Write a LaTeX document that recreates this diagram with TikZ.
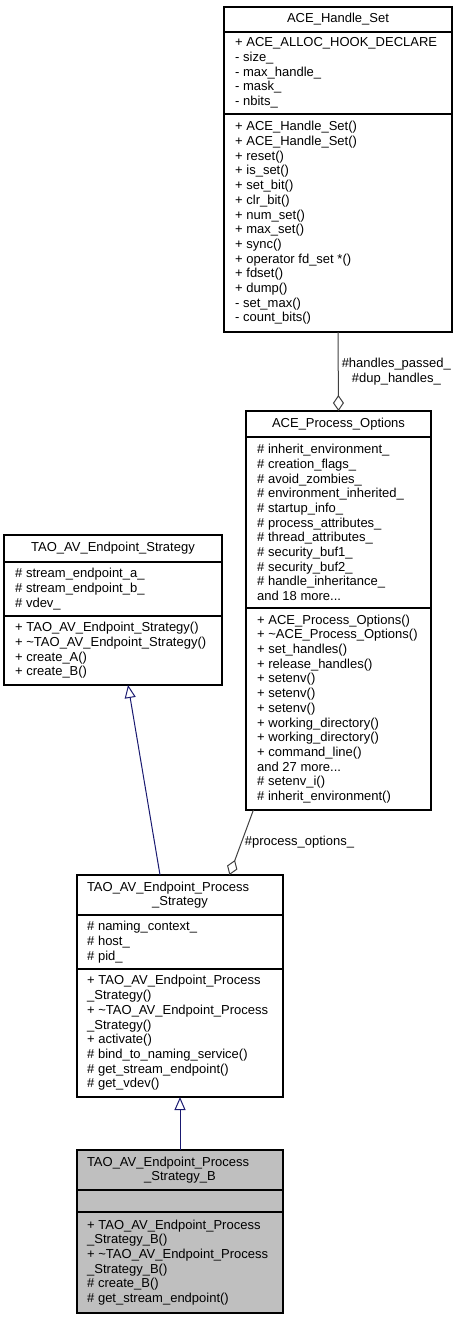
\documentclass[tikz,border=0pt]{standalone}
\usepackage{fontspec}
\setmainfont{Liberation Sans}
\usetikzlibrary{arrows.meta,positioning,calc}
\definecolor{edgeblue}{HTML}{191970}
\definecolor{edgegray}{HTML}{404040}
\definecolor{leafgray}{HTML}{BFBFBF}

\begin{document}
\begin{tikzpicture}[
  x=1pt, y=-1pt,
  part/.style={draw, line width=1.2pt, outer sep=0pt, inner sep=0pt, fill=white},
  head/.style={part, align=center, font=\fontsize{13}{14.7}\selectfont},
  memb/.style={anchor=west, align=left, inner xsep=11pt, inner ysep=0pt, font=\fontsize{13}{14.7}\selectfont},
  lbl/.style={align=center, inner sep=3pt, text=black, font=\fontsize{13}{14.7}\selectfont},
  inherit/.style={edgeblue, line width=1pt, -{Triangle[fill=white, length=13pt, width=11pt]}},
  aggr/.style={edgegray, line width=1pt, -{Diamond[fill=white, length=16pt, width=11pt]}}
]
\useasboundingbox (0,0) rectangle (459,1320);

% ACE_Handle_Set
\node[head, anchor=north west, minimum width=228pt, minimum height=25pt] (hs) at (224,7) {ACE\_Handle\_Set};
\node[part, below=0pt of hs, minimum width=228pt, minimum height=82pt] (hs-a) {};
\node[part, below=0pt of hs-a, minimum width=228pt, minimum height=218pt] (hs-m) {};
\node[memb] (hs-at) at (hs-a.west) {+ ACE\_ALLOC\_HOOK\_DECLARE\\- size\_\\- max\_handle\_\\- mask\_\\- nbits\_};
\node[memb] (hs-mt) at (hs-m.west) {+ ACE\_Handle\_Set()\\+ ACE\_Handle\_Set()\\+ reset()\\+ is\_set()\\+ set\_bit()\\+ clr\_bit()\\+ num\_set()\\+ max\_set()\\+ sync()\\+ operator fd\_set *()\\+ fdset()\\+ dump()\\- set\_max()\\- count\_bits()};

% ACE_Process_Options
\node[head, anchor=north west, minimum width=185pt, minimum height=26pt] (po) at (246,411) {ACE\_Process\_Options};
\node[part, below=0pt of po, minimum width=185pt, minimum height=171pt] (po-a) {};
\node[part, below=0pt of po-a, minimum width=185pt, minimum height=202pt] (po-m) {};
\node[memb] (po-at) at (po-a.west) {\# inherit\_environment\_\\\# creation\_flags\_\\\# avoid\_zombies\_\\\# environment\_inherited\_\\\# startup\_info\_\\\# process\_attributes\_\\\# thread\_attributes\_\\\# security\_buf1\_\\\# security\_buf2\_\\\# handle\_inheritance\_\\and 18 more...};
\node[memb] (po-mt) at (po-m.west) {+ ACE\_Process\_Options()\\+ \textasciitilde ACE\_Process\_Options()\\+ set\_handles()\\+ release\_handles()\\+ setenv()\\+ setenv()\\+ setenv()\\+ working\_directory()\\+ working\_directory()\\+ command\_line()\\and 27 more...\\\# setenv\_i()\\\# inherit\_environment()};

% TAO_AV_Endpoint_Strategy
\node[head, anchor=north west, minimum width=218pt, minimum height=27pt] (es) at (4,535) {TAO\_AV\_Endpoint\_Strategy};
\node[part, below=0pt of es, minimum width=218pt, minimum height=54pt] (es-a) {};
\node[part, below=0pt of es-a, minimum width=218pt, minimum height=69pt] (es-m) {};
\node[memb] (es-at) at (es-a.west) {\# stream\_endpoint\_a\_\\\# stream\_endpoint\_b\_\\\# vdev\_};
\node[memb] (es-mt) at (es-m.west) {+ TAO\_AV\_Endpoint\_Strategy()\\+ \textasciitilde TAO\_AV\_Endpoint\_Strategy()\\+ create\_A()\\+ create\_B()};

% TAO_AV_Endpoint_Process_Strategy
\node[head, anchor=north west, minimum width=206pt, minimum height=40pt, text width=186pt] (ps) at (77,875) {TAO\_AV\_Endpoint\_Process\hfill\null\\\_Strategy};
\node[part, below=0pt of ps, minimum width=206pt, minimum height=54pt] (ps-a) {};
\node[part, below=0pt of ps-a, minimum width=206pt, minimum height=128pt] (ps-m) {};
\node[memb, inner xsep=10pt] (ps-at) at (ps-a.west) {\# naming\_context\_\\\# host\_\\\# pid\_};
\node[memb, inner xsep=10pt] (ps-mt) at (ps-m.west) {+ TAO\_AV\_Endpoint\_Process\\\_Strategy()\\+ \textasciitilde TAO\_AV\_Endpoint\_Process\\\_Strategy()\\+ activate()\\\# bind\_to\_naming\_service()\\\# get\_stream\_endpoint()\\\# get\_vdev()};

% TAO_AV_Endpoint_Process_Strategy_B
\node[head, fill=leafgray, anchor=north west, minimum width=206pt, minimum height=40pt, text width=186pt] (pb) at (77,1150) {TAO\_AV\_Endpoint\_Process\hfill\null\\\_Strategy\_B};
\node[part, fill=leafgray, below=0pt of pb, minimum width=206pt, minimum height=22pt] (pb-a) {};
\node[part, fill=leafgray, below=0pt of pb-a, minimum width=206pt, minimum height=101pt] (pb-m) {};
\node[memb, inner xsep=10pt] (pb-mt) at (pb-m.west) {+ TAO\_AV\_Endpoint\_Process\\\_Strategy\_B()\\+ \textasciitilde TAO\_AV\_Endpoint\_Process\\\_Strategy\_B()\\\# create\_B()\\\# get\_stream\_endpoint()};

% edges
\draw[aggr] (hs-m.south) -- node[lbl, right] (hs-lbl) {\#handles\_passed\_\\\#dup\_handles\_} (po.north);
\draw[aggr] ($(po-m.south west)!0.04!(po-m.south east)$) -- node[lbl, right] (po-lbl) {\#process\_options\_} ($(ps.north west)!0.74!(ps.north east)$);
\draw[inherit] ($(ps.north west)!0.403!(ps.north east)$) -- ($(es-m.south west)!0.569!(es-m.south east)$);
\draw[inherit] (pb.north) -- (ps-m.south);
\end{tikzpicture}
\end{document}
